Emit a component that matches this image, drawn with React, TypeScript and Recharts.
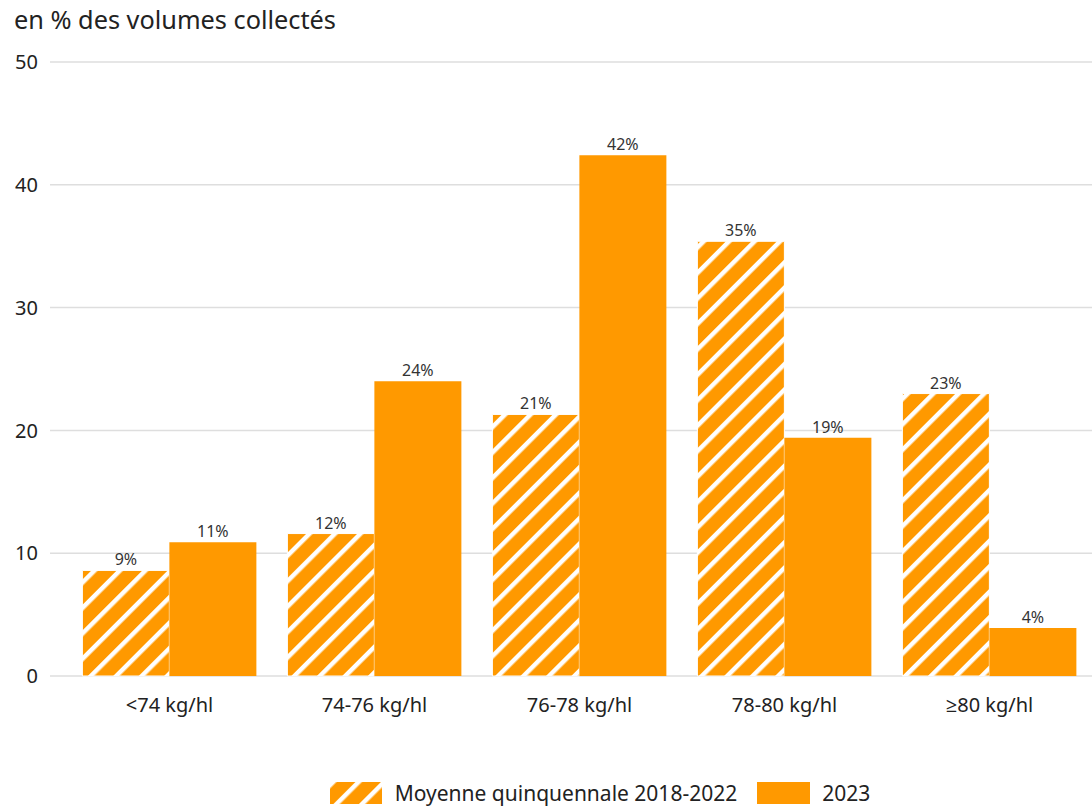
import { BarChart, Bar, XAxis, YAxis, CartesianGrid, Legend, LabelList } from "recharts";

const categories = ["<74 kg/hl", "74-76 kg/hl", "76-78 kg/hl", "78-80 kg/hl", "≥80 kg/hl"];
const moyenne = [8.6, 11.6, 21.3, 35.4, 23.0];
const annee2023 = [10.9, 24.0, 42.4, 19.4, 3.9];
const yTicks = [0, 10, 20, 30, 40, 50];

const ORANGE = "#ff9900";
const FONT = "'Noto Sans', 'Open Sans', sans-serif";

const data = categories.map((c, i) => ({
  cat: c,
  moyenne: moyenne[i],
  y2023: annee2023[i],
}));

function Hatch({ id }: { id: string }) {
  return (
    <pattern id={id} patternUnits="userSpaceOnUse" width={18} height={18} patternTransform="rotate(45)">
      <rect x={0} y={0} width={18} height={18} fill={ORANGE} />
      <rect x={0} y={0} width={4.5} height={18} fill="#fff" />
    </pattern>
  );
}

function LegendContent() {
  return (
    <div
      style={{
        display: "flex",
        justifyContent: "center",
        alignItems: "center",
        fontFamily: FONT,
        fontSize: 21,
        color: "#222",
        height: 28,
        paddingLeft: 108,
      }}
    >
      <svg width={52} height={22} style={{ marginRight: 13 }}>
        <defs>
          <Hatch id="hatchLegend" />
        </defs>
        <rect x={0} y={0} width={52} height={22} fill="url(#hatchLegend)" />
      </svg>
      <span style={{ marginRight: 20 }}>Moyenne quinquennale 2018-2022</span>
      <svg width={53} height={22} style={{ marginRight: 12 }}>
        <rect x={0} y={0} width={53} height={22} fill={ORANGE} />
      </svg>
      <span>2023</span>
    </div>
  );
}

export default function App() {
  return (
    <div style={{ position: "absolute", top: 0, left: 0, width: 1092, height: 807, background: "#fff" }}>
      <div
        style={{
          position: "absolute",
          top: 2,
          left: 14,
          fontFamily: FONT,
          fontSize: 25.3,
          color: "#222",
        }}
      >
        en % des volumes collectés
      </div>
      <BarChart
        width={1092}
        height={807}
        data={data}
        margin={{ top: 62, right: 0, left: 0, bottom: 0 }}
        barCategoryGap="7.5%"
        barGap={0}
        style={{ fontFamily: FONT }}
      >
        <defs>
          <Hatch id="hatchBar" />
        </defs>
        <CartesianGrid vertical={false} stroke="#dedede" strokeWidth={1.5} />
        <XAxis
          dataKey="cat"
          axisLine={false}
          tickLine={false}
          height={103}
          padding={{ left: 17, right: 0 }}
          tick={{ fill: "#222", fontSize: 20 }}
          tickMargin={16}
        />
        <YAxis
          domain={[0, 50]}
          ticks={yTicks}
          axisLine={false}
          tickLine={false}
          tickSize={0}
          tickMargin={12}
          width={50}
          tick={{ fill: "#222", fontSize: 20 }}
        />
        <Legend verticalAlign="bottom" content={<LegendContent />} />
        <Bar dataKey="moyenne" fill="url(#hatchBar)" stroke="#fff" strokeWidth={1} isAnimationActive={false}>
          <LabelList
            dataKey="moyenne"
            position="top"
            formatter={(v: number) => `${Math.round(v)}%`}
            style={{ fill: "#333", fontSize: 16 }}
          />
        </Bar>
        <Bar dataKey="y2023" fill={ORANGE} isAnimationActive={false}>
          <LabelList
            dataKey="y2023"
            position="top"
            formatter={(v: number) => `${Math.round(v)}%`}
            style={{ fill: "#333", fontSize: 16 }}
          />
        </Bar>
      </BarChart>
    </div>
  );
}
